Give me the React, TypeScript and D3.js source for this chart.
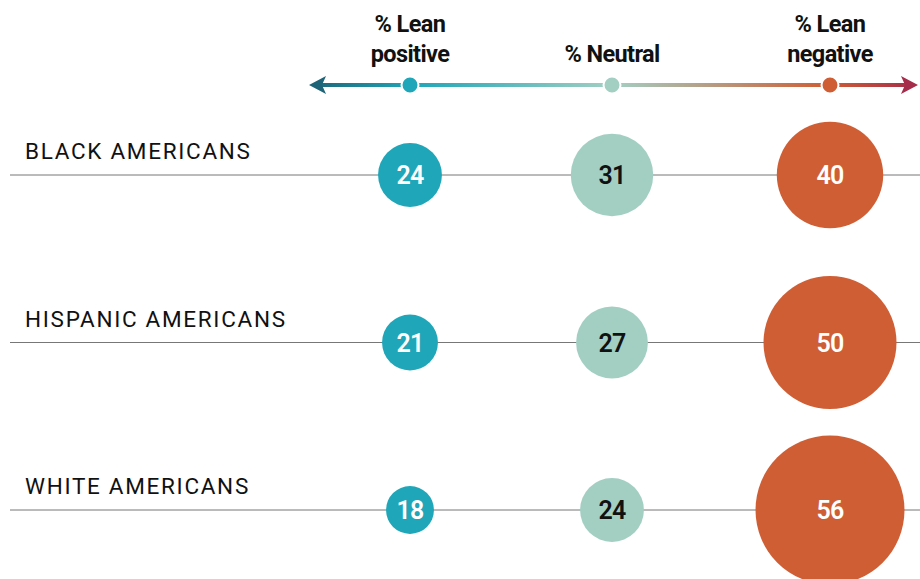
import React from 'react';
import * as d3 from 'd3';

const groups = ['BLACK AMERICANS', 'HISPANIC AMERICANS', 'WHITE AMERICANS'];
const categories = ['positive', 'neutral', 'negative'];
const headerLines = [['% Lean', 'positive'], ['% Neutral'], ['% Lean', 'negative']];
const positive = [24, 21, 18];
const neutral = [31, 27, 24];
const negative = [40, 50, 56];

const fills = ['#1fa6b8', '#a3cfc3', '#cf5e35'];
const textFills = ['#ffffff', '#111111', '#ffffff'];

const W = 920;
const H = 579;

export default function App() {
  const x = d3.scalePoint<string>().domain(categories).range([410, 830]);
  // neutral column sits slightly left of centre in the original
  const colX = (c: string) => (c === 'neutral' ? 612 : (x(c) as number));
  const y = d3.scalePoint<string>().domain(groups).range([175, 510]);
  const r = d3.scaleLinear().domain([0, 56]).range([0, 74.5]);
  const series = [positive, neutral, negative];

  return (
    <svg width={W} height={H} style={{ position: 'absolute', left: 0, top: 0, fontFamily: 'Roboto, sans-serif' }}>
      <defs>
        <linearGradient id="scaleGrad" x1="310" x2="917" y1="0" y2="0" gradientUnits="userSpaceOnUse">
          <stop offset="0" stopColor="#1d6478" />
          <stop offset="0.17" stopColor="#1fa6b8" />
          <stop offset="0.5" stopColor="#a3cfc3" />
          <stop offset="0.85" stopColor="#cf5e35" />
          <stop offset="1" stopColor="#a52c4a" />
        </linearGradient>
      </defs>

      {/* header labels */}
      {categories.map((c, i) => {
        const lines = headerLines[i];
        return (
          <text key={c} x={colX(c)} textAnchor="middle" fontWeight={700} fontSize={23.5} fill="#111"
            style={{ letterSpacing: '-0.6px' }}>
            {lines.map((l, j) => (
              <tspan key={j} x={colX(c)} y={lines.length === 1 ? 62 : 32 + j * 30}>{l}</tspan>
            ))}
          </text>
        );
      })}

      {/* gradient arrow */}
      <line x1={318} x2={909} y1={85} y2={85} stroke="url(#scaleGrad)" strokeWidth={4} />
      <path d="M309,85 L326,76 L322,85 L326,94 Z" fill="#1d6478" />
      <path d="M918,85 L901,76 L905,85 L901,94 Z" fill="#a52c4a" />
      {categories.map((c, i) => (
        <circle key={c} cx={colX(c)} cy={85} r={8.5} fill={fills[i]} stroke="#fff" strokeWidth={2} />
      ))}

      {/* rows */}
      {groups.map((g, gi) => {
        const cy = y(g) as number;
        return (
          <g key={g}>
            <line x1={10} x2={W} y1={cy} y2={cy} stroke="#777" strokeWidth={1} />
            <text x={25} y={cy - 16} fontSize={22.5} fill="#111" style={{ letterSpacing: '1.7px' }}>{g}</text>
            {categories.map((c, ci) => {
              const v = series[ci][gi];
              return (
                <g key={c}>
                  <circle cx={colX(c)} cy={cy} r={r(v)} fill={fills[ci]} />
                  <text x={colX(c)} y={cy} dy="0.36em" textAnchor="middle" fontSize={25} fontWeight={600}
                    fill={textFills[ci]} style={{ letterSpacing: '-0.8px' }}>{v}</text>
                </g>
              );
            })}
          </g>
        );
      })}
    </svg>
  );
}
